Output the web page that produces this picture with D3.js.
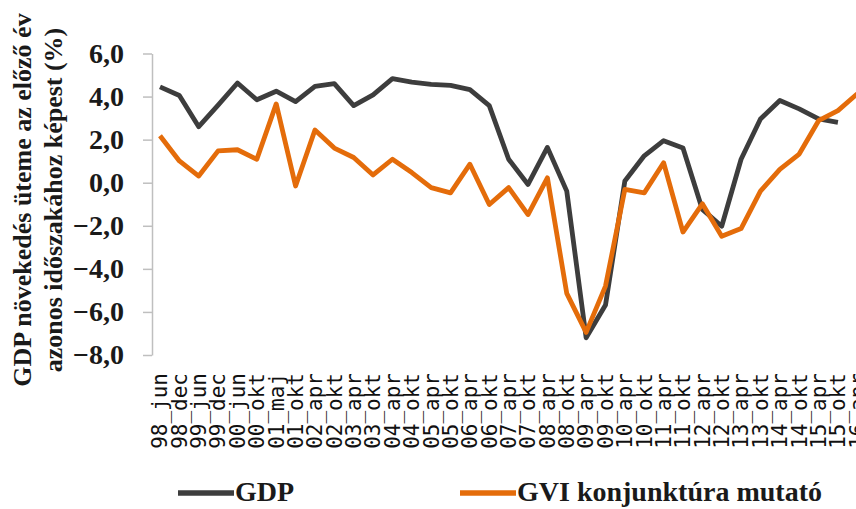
<!DOCTYPE html>
<html lang="hu">
<head>
    <meta charset="UTF-8">
    <title>GDP és GVI konjunktúra mutató</title>
    <script src="https://d3js.org/d3.v7.min.js"></script>
    <style>
        body { margin: 0; background: #fff; }
        svg { display: block; }
        .ytick text { font-family: "Liberation Serif", serif; font-weight: bold; font-size: 28px; fill: #1a1a1a; }
        .xlab { font-family: "DejaVu Sans Mono", monospace; font-size: 21px; fill: #111; }
        .ttl { font-family: "Liberation Serif", serif; font-weight: bold; font-size: 26px; fill: #1a1a1a; }
        .leg { font-family: "Liberation Serif", serif; font-weight: bold; font-size: 28px; fill: #1a1a1a; }
    </style>
</head>
<body>
    <svg id="chart"></svg>

    <script>
        const categories = ["98_jun","98_dec","99_jun","99_dec","00_jun","00_okt","01_maj","01_okt",
            "02_apr","02_okt","03_apr","03_okt","04_apr","04_okt","05_apr","05_okt","06_apr","06_okt",
            "07_apr","07_okt","08_apr","08_okt","09_apr","09_okt","10_apr","10_okt","11_apr","11_okt",
            "12_apr","12_okt","13_apr","13_okt","14_apr","14_okt","15_apr","15_okt","16_apr"];

        const gdp = [4.45, 4.05, 2.6, 3.6, 4.63, 3.85, 4.25, 3.77, 4.47, 4.6, 3.58, 4.08,
            4.83, 4.67, 4.57, 4.52, 4.32, 3.58, 1.09, -0.08, 1.64, -0.39, -7.2, -5.68,
            0.08, 1.25, 1.95, 1.61, -1.24, -2.02, 1.09, 2.96, 3.82, 3.43, 2.96, 2.8, null];

        const gvi = [2.18, 1.01, 0.31, 1.48, 1.53, 1.09, 3.66, -0.15, 2.45, 1.61, 1.17, 0.36,
            1.09, 0.47, -0.23, -0.47, 0.86, -1.01, -0.23, -1.48, 0.23, -5.14, -6.95, -4.8,
            -0.31, -0.47, 0.93, -2.29, -0.98, -2.49, -2.13, -0.39, 0.62, 1.33, 2.88, 3.35, 4.13];

        const yTicks = [-8, -6, -4, -2, 0, 2, 4, 6];
        const yTitle = ["GDP növekedés üteme az előző év", "azonos időszakához képest (%)"];
        const seriesNames = ["GDP", "GVI konjunktúra mutató"];
        const colors = ["#3d3d3d", "#e46c0a"];

        const width = 856, height = 509;
        const svg = d3.select("#chart").attr("width", width).attr("height", height);

        const x = d3.scalePoint().domain(categories).range([160, 857.3]);
        const y = d3.scaleLinear().domain([-8, 6]).range([355, 53.5]);

        // y axis
        const yAxis = svg.append("g")
            .attr("class", "ytick")
            .attr("transform", "translate(152,0)")
            .call(d3.axisLeft(y).tickValues(yTicks).tickSize(9).tickSizeOuter(0).tickPadding(19)
                .tickFormat(d => d3.format(".1f")(d).replace(".", ",")));
        yAxis.select(".domain").attr("stroke", "#bfbfbf").attr("stroke-width", 1.5);
        yAxis.selectAll(".tick line").attr("stroke", "#bfbfbf").attr("stroke-width", 1.5);
        yAxis.selectAll(".tick text").attr("font-family", null).attr("font-size", null);

        // x labels (rotated); the last one runs off the right edge as in the original
        svg.append("g").selectAll("text")
            .data(categories)
            .join("text")
            .attr("class", "xlab")
            .attr("transform", d => `translate(${x(d)},373) rotate(-90)`)
            .attr("text-anchor", "end")
            .attr("dy", "0.35em")
            .text(d => d);

        // lines
        const series = [gdp, gvi];
        series.forEach((vals, i) => {
            const line = d3.line()
                .defined(d => d != null)
                .x((d, j) => x(categories[j]))
                .y(d => y(d));
            svg.append("path")
                .datum(vals)
                .attr("fill", "none")
                .attr("stroke", colors[i])
                .attr("stroke-width", 4.8)
                .attr("stroke-linejoin", "round")
                .attr("d", line);
        });

        // y title
        yTitle.forEach((t, i) => {
            svg.append("text")
                .attr("class", "ttl")
                .attr("transform", `translate(${31 + i * 31},200) rotate(-90)`)
                .attr("text-anchor", "middle")
                .text(t);
        });

        // legend
        const legX = [178, 460];
        seriesNames.forEach((name, i) => {
            svg.append("line")
                .attr("x1", legX[i]).attr("x2", legX[i] + 56)
                .attr("y1", 493).attr("y2", 493)
                .attr("stroke", colors[i]).attr("stroke-width", 5.5);
            svg.append("text")
                .attr("class", "leg")
                .attr("x", legX[i] + 57).attr("y", 501)
                .text(name);
        });
    </script>
</body>
</html>
